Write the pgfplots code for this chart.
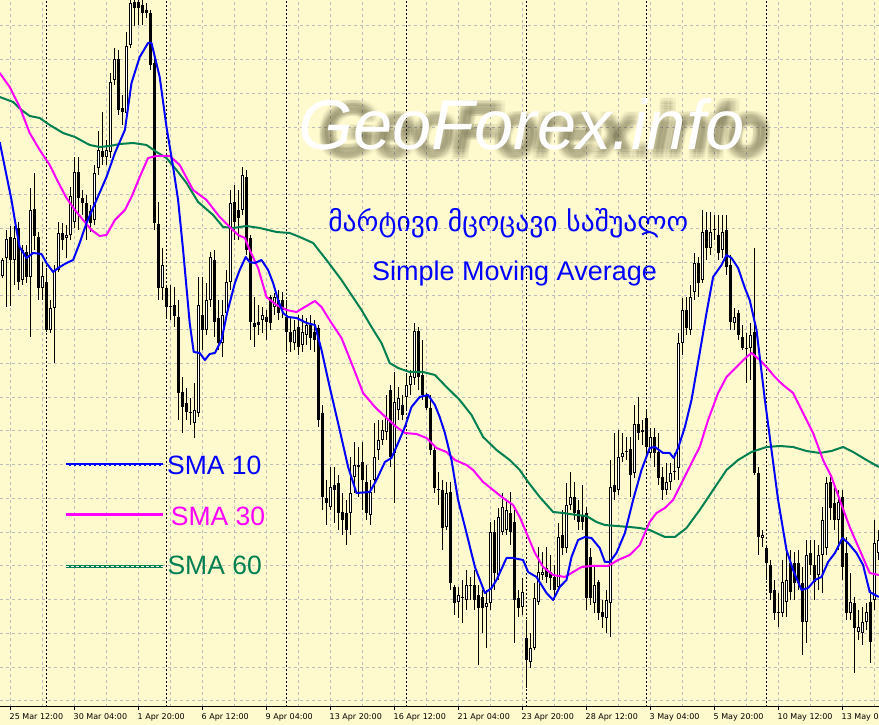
\documentclass[border=0pt]{standalone}
\usepackage{fontspec}
\setmainfont{Liberation Sans}
\newfontfamily\geofont{DejaVu Sans}
\newfontfamily\tickfont{DejaVu Sans}
\usepackage{graphicx}
\usepackage{pgfplots}
\usepackage{pgfplotstable}
\pgfplotsset{compat=1.18}
\definecolor{bg}{RGB}{255,250,205}
\definecolor{gridc}{RGB}{188,188,188}
\definecolor{smablue}{RGB}{0,0,255}
\definecolor{smamag}{RGB}{255,0,255}
\definecolor{smagreen}{RGB}{0,128,80}
\definecolor{shadowc}{RGB}{70,66,40}

% candles: i, open, high, low, close  (values measured downward from the top of the chart)
\pgfplotstableread{
i o h l c
0 276 258 278 260
1 258 230 307 239
2 237 226 306 260
3 260 226 285 238
4 228 222 290 282
5 280 245 285 250
6 252 245 283 277
7 277 188 337 210
8 209 173 250 236
9 237 232 300 288
10 288 262 300 276
11 282 268 332 330
12 330 300 333 308
13 308 265 363 270
14 270 222 272 233
15 233 223 250 240
16 238 225 258 235
17 235 187 240 196
18 222 157 228 172
19 172 157 230 198
20 198 190 215 203
21 203 195 240 222
22 211 205 232 223
23 220 165 225 173
24 168 131 175 150
25 151 112 165 157
26 157 140 165 150
27 152 73 158 82
28 80 48 85 59
29 59 50 115 110
30 108 95 125 112
31 113 32 118 46
32 45 -15 48 3
33 2 -10 26 8
34 2 -10 25 8
35 5 -5 25 13
36 10 3 18 13
37 13 10 70 65
38 63 55 230 223
39 224 202 300 288
40 288 248 300 265
41 288 285 317 307
42 306 285 320 307
43 305 287 327 316
44 317 300 420 393
45 392 377 433 407
46 403 388 420 412
47 413 398 425 413
48 423 383 438 410
49 413 277 417 305
50 315 277 350 330
51 330 283 335 300
52 300 252 307 257
53 260 250 337 322
54 318 300 350 343
55 343 300 357 315
56 313 270 318 282
57 282 190 290 203
58 202 185 240 222
59 210 190 240 218
60 210 167 215 175
61 177 170 255 250
62 238 235 340 322
63 323 297 347 327
64 322 305 335 325
65 320 307 333 315
66 317 310 340 322
67 297 295 330 323
68 307 293 315 297
69 300 290 320 313
70 300 292 318 310
71 317 300 352 332
72 332 317 352 342
73 343 320 350 330
74 327 315 355 347
75 345 315 352 332
76 335 318 345 325
77 325 315 350 338
78 332 320 352 340
79 328 325 427 420
80 413 405 510 497
81 498 480 525 503
82 507 467 510 487
83 485 467 523 490
84 483 475 530 513
85 512 493 535 520
86 513 500 545 530
87 513 457 535 493
88 477 442 493 465
89 465 447 497 467
90 462 442 510 480
91 482 465 520 513
92 515 480 525 492
93 480 423 493 457
94 450 420 460 440
95 440 420 445 430
96 432 395 440 418
97 390 385 467 457
98 453 372 503 402
99 410 387 420 398
100 405 395 420 415
101 397 373 410 385
102 385 370 395 376
103 378 323 385 331
104 331 327 390 377
105 375 340 400 395
106 395 393 410 408
107 408 395 455 450
108 450 445 493 488
109 489 472 505 490
110 490 480 550 528
111 527 482 530 493
112 492 482 590 583
113 587 585 615 603
114 602 587 618 595
115 597 580 623 598
116 600 570 610 585
117 585 577 600 586
118 585 570 610 600
119 595 585 665 608
120 597 590 633 608
121 607 590 648 603
122 603 522 610 532
123 532 520 590 573
124 575 508 580 517
125 532 493 535 507
126 530 500 535 510
127 513 492 545 532
128 522 510 643 600
129 598 590 617 608
130 607 578 615 592
131 638 620 688 660
132 662 633 668 648
133 648 583 650 598
134 602 547 605 572
135 575 552 580 572
136 568 547 583 577
137 572 555 590 578
138 577 565 600 590
139 587 523 590 537
140 535 510 555 548
141 548 483 553 505
142 505 472 510 497
143 497 482 520 513
144 510 500 530 522
145 515 485 530 522
146 513 507 610 598
147 557 548 605 598
148 603 567 613 585
149 582 580 620 613
150 612 600 628 617
151 618 590 633 600
152 603 460 637 487
153 485 433 500 492
154 490 430 495 457
155 457 433 462 453
156 451 437 460 452
157 449 437 497 475
158 473 405 478 424
159 424 397 440 433
160 432 420 445 430
161 418 410 455 447
162 453 428 458 437
163 437 428 467 453
164 452 433 485 478
165 477 467 500 490
166 490 463 495 482
167 482 463 490 473
168 472 453 480 472
169 468 333 480 343
170 343 298 355 310
171 310 297 335 328
172 330 285 335 297
173 292 253 300 263
174 263 257 297 283
175 280 210 283 232
176 230 212 260 248
177 248 212 255 232
178 229 215 240 230
179 235 215 260 253
180 250 215 258 232
181 230 215 275 267
182 265 255 330 322
183 323 308 330 317
184 313 310 340 335
185 337 325 350 348
186 348 333 383 349
187 348 323 380 335
188 332 248 475 473
189 473 467 555 537
190 538 530 547 535
191 548 547 580 563
192 565 560 600 593
193 590 580 620 613
194 613 593 627 612
195 613 560 617 582
196 602 550 617 580
197 563 550 600 592
198 563 552 600 583
199 563 550 590 583
200 583 567 655 622
201 622 540 643 555
202 553 540 575 565
203 565 540 600 582
204 575 545 590 555
205 555 507 593 520
206 548 477 555 483
207 482 477 520 508
208 503 487 530 520
209 520 490 550 502
210 497 490 580 567
211 553 537 620 613
212 613 573 620 602
213 603 597 673 628
214 632 610 640 627
215 633 607 645 622
216 622 603 630 612
217 602 590 663 642
218 600 520 610 543
219 553 530 560 540
}\candles

\pgfplotstableread{
x y
-0.7 142
2.25 200
3.5 230
4.3 247
6 258
7.65 253
9.75 254
11 263
12.65 272
13.9 268
16 263
17.65 260
19.3 243
21 223
23.5 200
26 177
28.1 153
30.6 130
32.25 83
34.3 57
36.4 43
37.25 43
39.3 77
41 127
42.65 167
43.9 200
45.15 250
46.8 323
47.8 352
49.3 353
50.6 360
51.8 354
53.1 353
54.75 340
56.15 313
58.1 283
59.3 270
60.8 257
61.8 262
63.1 263
64.75 260
66.4 270
67.65 283
68.9 300
70.15 313
71.4 317
73.5 318
76 323
78.1 325
79.75 350
81.8 387
84.3 430
86.4 467
88.5 493
91.8 492
93.5 480
95.6 462
97.25 458
98.9 443
100.6 427
102.25 407
104.3 397
106.4 395
108.1 405
109.3 417
110.6 433
112.25 460
113.9 500
116 533
118.1 567
120.6 593
122.25 588
123.5 580
126 558
127.65 558
130.15 560
131.4 572
133.5 577
136 593
137.65 600
139.3 587
141 580
142.25 557
143.9 540
145.6 537
147.25 538
149.3 548
150.6 562
151.8 562
153.5 553
155.6 533
157.65 500
159.75 470
161.8 448
163.1 447
165.15 453
166.8 453
167.8 458
168.9 448
170.6 427
172.25 400
174.3 353
176 313
177.65 277
179.75 265
181 255
182.25 258
183.9 268
185.6 288
186.8 300
188.5 330
190.6 400
192.25 450
193.9 500
196 550
197.65 570
199.75 590
201.4 588
203.1 580
204.75 577
206.4 562
208.1 553
210 538
211.4 543
213.5 553
215.15 565
216.8 592
219.1 597
}\smaten

\pgfplotstableread{
x y
-0.7 73
1.8 87
4.3 107
6.8 133
9.3 150
11.8 165
13.9 182
16 198
18.1 210
20.15 220
22.25 230
24.3 236
26 235
28.1 220
30.6 210
32.25 197
34.3 177
36.4 158
38.5 156
41.8 156
44.3 165
47.65 190
51 200
54.3 217
56.8 227
58.9 235
60.6 238
61.8 250
63.9 268
66 297
68.5 305
71 310
73.5 312
75.15 308
78.1 301
79.75 307
82.25 323
84.75 338
87.25 363
90.15 393
93.1 407
96 418
98.5 427
100.6 433
103.5 434
106 438
108.5 448
111 452
113.1 460
116 465
117.65 470
120.15 482
122.65 490
125.15 498
127.65 505
129.3 517
131 533
133.1 553
135.15 567
137.65 575
140.6 577
142.65 572
144.75 567
147.25 566
151.4 566
153.9 560
156.8 555
159.3 545
161.8 522
163.5 513
165.6 508
167.65 500
170.15 480
172.25 463
174.3 447
176.4 420
178.9 393
181 377
183.5 367
186 357
187.25 353
189.3 360
191 367
193.1 377
195.15 385
197.65 393
200.15 413
202.65 433
205.15 460
207.25 477
209.3 500
211.8 527
214.3 550
216.8 573
219.1 575
}\smathirty

\pgfplotstableread{
x y
-0.7 97
2.65 102
4.75 110
6.8 116
9.3 118
11.8 125
15.15 133
18.1 137
21.8 145
24.3 147
26.8 146
29.3 144
32.65 143
36 145
38.5 152
41 158
43.5 170
46 183
48.9 202
52.65 215
55.15 227
57.65 228
61 226
64.3 228
68.5 232
71.8 233
74.3 237
77.65 243
81 260
84.75 280
87.25 295
89.75 310
92.25 327
94.75 343
96.8 363
98.9 368
101.8 372
105.15 372
108.1 375
111 387
114.3 400
117.25 415
120.15 437
123.5 450
126.8 460
129.3 470
131.4 482
134.3 497
137.65 512
140.15 513
143.5 515
146 516
148.5 522
150.6 525
153.5 526
156.8 527
159.3 528
161.8 530
165.6 537
168.1 537
171 528
174.3 510
177.65 490
181 470
183.9 460
187.25 452
191 447
194.3 446
197.65 447
201 451
204.3 453
207.25 451
210.15 447
212.65 452
216 460
219.1 467
}\smasixty

\begin{document}
\begin{tikzpicture}
\useasboundingbox (0pt,-18pt) rectangle (879pt,707pt);
\fill[bg] (0pt,-18pt) rectangle (879pt,707pt);
\begin{axis}[
  at={(0pt,0pt)}, anchor=south west,
  scale only axis, width=879pt, height=707pt,
  xmin=-0.625, xmax=219.125, ymin=0, ymax=707,
  axis lines=left, axis line style={-},
  x axis line style={black, line width=1pt},
  y axis line style={draw=none},
  ytick={6,39.75,...,690}, yticklabels={}, ytick style={draw=none},
  xtick={2,18,...,210},
  minor xtick={10,26,...,218},
  xticklabels={25 Mar 12:00,30 Mar 04:00,1 Apr 20:00,6 Apr 12:00,9 Apr 04:00,13 Apr 20:00,16 Apr 12:00,21 Apr 04:00,23 Apr 20:00,28 Apr 12:00,3 May 04:00,5 May 20:00,10 May 12:00,13 May 04:00},
  xticklabel style={font=\tickfont\fontsize{8}{9}\selectfont, anchor=north west, inner sep=0pt, xshift=-1pt, yshift=-3.5pt},
  tick align=outside, major tick length=3pt, minor tick length=0pt,
  xtick style={black, line width=1pt},
  grid=both,
  major grid style={gridc, dash pattern=on 3pt off 3pt, line width=1pt},
  minor grid style={gridc, dash pattern=on 3pt off 3pt, line width=1pt},
  extra x ticks={11,41,71,101,131,161,191},
  extra x tick labels={},
  extra x tick style={major tick length=0pt, major grid style={black, dash pattern=on 2pt off 2pt, line width=1pt}},
]
% wicks: from low to high
\addplot[black, line width=1pt, mark=none, forget plot,
  quiver={u=0, v={\thisrow{l}-\thisrow{h}}, every arrow/.append style={line width=1pt, line cap=butt}}]
  table[x=i, y expr={707-\thisrow{l}}] {\candles};
% bodies: from lower edge to upper edge
\addplot[black, line width=3pt, mark=none, forget plot,
  quiver={u=0, v={max(abs(\thisrow{o}-\thisrow{c}),1)}, every arrow/.append style={line width=3pt, line cap=butt}}]
  table[x=i, y expr={707-max(\thisrow{o},\thisrow{c})}] {\candles};
% hollow interior of rising candles
\addplot[white, line width=1pt, mark=none, forget plot,
  quiver={u=0, v={\thisrow{o}-\thisrow{c}-2}, every arrow/.append style={line width=1pt, line cap=butt}}]
  table[x=i, y expr={\thisrow{c}<\thisrow{o}-2 ? 708-\thisrow{o} : nan}] {\candles};
% moving averages
\addplot[smagreen, line width=2pt, line join=round, mark=none] table[x=x, y expr={707-\thisrow{y}}] {\smasixty};
\addplot[smamag, line width=2pt, line join=round, mark=none] table[x=x, y expr={707-\thisrow{y}}] {\smathirty};
\addplot[smablue, line width=2pt, line join=round, mark=none] table[x=x, y expr={707-\thisrow{y}}] {\smaten};
% legend lines
\addplot[smablue, line width=3pt, mark=none] coordinates {(15.875,242) (40.2,242)};
\addplot[white, line width=0.8pt, dash pattern=on 3pt off 2pt, mark=none] coordinates {(15.875,242) (40.2,242)};
\addplot[smamag, line width=3pt, mark=none] coordinates {(15.875,192.7) (40.2,192.7)};
\addplot[smagreen, line width=3pt, mark=none] coordinates {(15.875,140.7) (40.2,140.7)};
\addplot[white, line width=0.8pt, dash pattern=on 3pt off 2pt, mark=none] coordinates {(15.875,140.7) (40.2,140.7)};
\end{axis}
% texts
\node[anchor=west, inner sep=0pt, text=smablue, font=\fontsize{26.5}{26.5}\selectfont] at (167pt,241.5pt) {SMA 10};
\node[anchor=west, inner sep=0pt, text=smamag, font=\fontsize{26.5}{26.5}\selectfont] at (170.7pt,191pt) {SMA 30};
\node[anchor=west, inner sep=0pt, text=smagreen, font=\fontsize{26.5}{26.5}\selectfont] at (167.3pt,142pt) {SMA 60};
\node[anchor=base west, inner sep=0pt, text=smablue, font=\fontsize{27}{27}\selectfont] at (372pt,426pt) {Simple Moving Average};
\node[anchor=center, inner sep=0pt, text=smablue] at (508.3pt,484pt) {\resizebox{360pt}{!}{\geofont მარტივი მცოცავი საშუალო}};
\foreach \dx in {-5,-2.5,0,2.5,5}{
  \foreach \dy in {-5,-2.5,0,2.5,5}{
    \node[anchor=base west, inner sep=0pt, text=shadowc, text opacity=0.045, font=\fontsize{70.5}{70.5}\selectfont\itshape] at ({321pt+\dx*1pt},{552pt+\dy*1pt}) {GeoForex.info};
  }
}
\node[anchor=base west, inner sep=0pt, text=white, font=\fontsize{70.5}{70.5}\selectfont\itshape] at (298pt,557pt) {GeoForex.info};
\end{tikzpicture}
\end{document}
